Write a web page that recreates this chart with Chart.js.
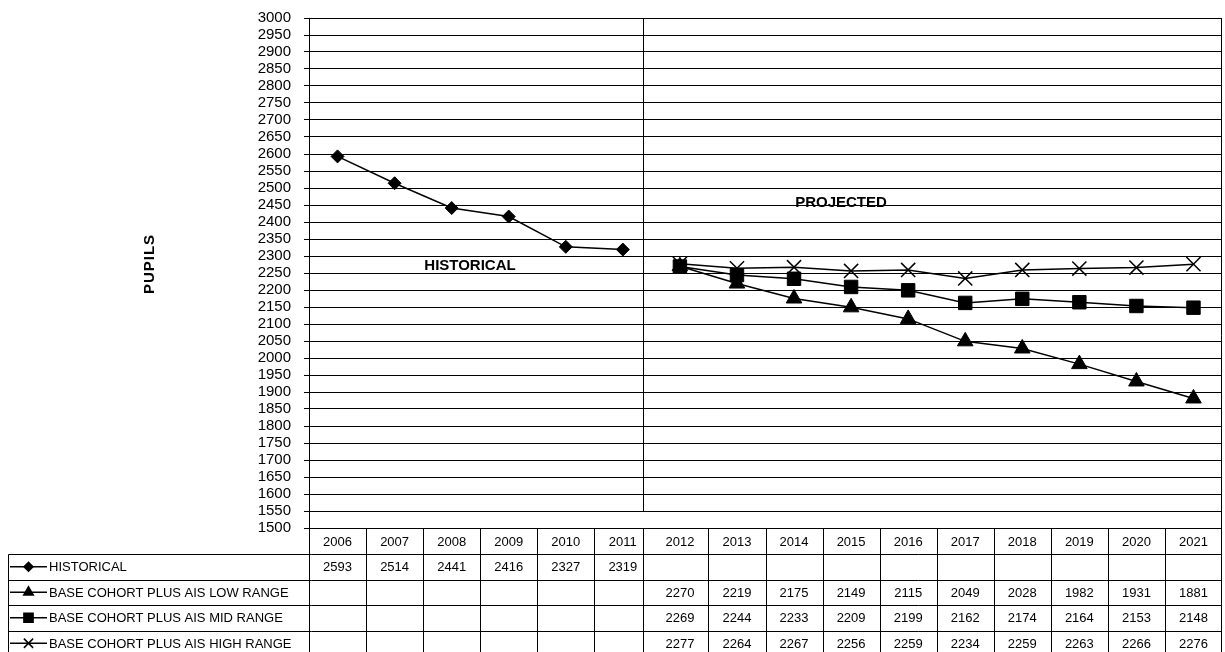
<!DOCTYPE html>
<html>
<head>
<meta charset="utf-8">
<script src="https://cdn.jsdelivr.net/npm/chart.js@4/dist/chart.umd.min.js"></script>
<style>
  body { margin: 0; background: #fff; }
</style>
</head>
<body>
<canvas id="myChart" width="1225" height="652"></canvas>
<script>
const years = ["2006", "2007", "2008", "2009", "2010", "2011", "2012", "2013",
  "2014", "2015", "2016", "2017", "2018", "2019", "2020", "2021"];
const historical = [2593, 2514, 2441, 2416, 2327, 2319, null, null, null, null, null, null, null, null, null, null];
const lowRange = [null, null, null, null, null, null, 2270, 2219, 2175, 2149, 2115, 2049, 2028, 1982, 1931, 1881];
const midRange = [null, null, null, null, null, null, 2269, 2244, 2233, 2209, 2199, 2162, 2174, 2164, 2153, 2148];
const highRange = [null, null, null, null, null, null, 2277, 2264, 2267, 2256, 2259, 2234, 2259, 2263, 2266, 2276];
const seriesNames = ["HISTORICAL", "BASE COHORT PLUS AIS LOW RANGE",
  "BASE COHORT PLUS AIS MID RANGE", "BASE COHORT PLUS AIS HIGH RANGE"];
const yMin = 1500, yMax = 3000, yStep = 50;
// where the historical / projected divider sits, in category widths from the left
const dividerAt = 5.85;

const font = "'Liberation Sans', Arial, sans-serif";
const markers = [
  { style: "rectRot", radius: 6.5, small: 4.5 },
  { style: "triangle", radius: 9, small: 5.5 },
  { style: "rect", radius: 9.5, small: 6.5 },
  { style: "crossRot", radius: 10, small: 6.5 },
];

function makeSet(i, values) {
  return {
    label: seriesNames[i],
    data: values,
    borderColor: "#000",
    backgroundColor: "#000",
    borderWidth: 1.5,
    tension: 0,
    pointStyle: markers[i].style,
    pointRadius: markers[i].radius,
    pointHoverRadius: markers[i].radius,
    pointBorderWidth: i == 3 ? 1.5 : 1,
    pointBackgroundColor: "#000",
    pointBorderColor: "#000",
  };
}

// draws the text labels, the divider and the data table under the plot
const tablePlugin = {
  id: "table",
  afterDraw(chart) {
    const ctx = chart.ctx;
    const area = chart.chartArea;
    const x = chart.scales.x;
    const y = chart.scales.y;
    const colW = (area.right - area.left) / years.length;
    const divX = Math.round(area.left + colW * dividerAt) + 0.5;
    const rightX = Math.round(area.right) - 0.5;
    const top = Math.round(area.top) + 0.5;
    const headTop = Math.round(area.bottom) + 0.5;
    const rowH = 25.5;
    const tableLeft = 8.5;

    ctx.save();
    ctx.strokeStyle = "#000";
    ctx.lineWidth = 1;

    // right border of plot and table
    ctx.beginPath();
    ctx.moveTo(rightX, top);
    ctx.lineTo(rightX, 660);
    ctx.stroke();

    // divider
    ctx.beginPath();
    ctx.moveTo(divX, top);
    ctx.lineTo(divX, Math.round(y.getPixelForValue(1550)) + 0.5);
    ctx.stroke();

    // table horizontal lines
    for (let r = 1; r <= 4; r++) {
      const ly = Math.round(headTop + rowH * r) + 0.5;
      ctx.beginPath();
      ctx.moveTo(tableLeft, ly);
      ctx.lineTo(rightX, ly);
      ctx.stroke();
    }
    // table vertical lines
    ctx.beginPath();
    ctx.moveTo(tableLeft, Math.round(headTop + rowH) + 0.5);
    ctx.lineTo(tableLeft, 660);
    ctx.stroke();
    for (let k = 0; k < years.length; k++) {
      let ex = Math.round(area.left + colW * k) + 0.5;
      if (k == 6) ex = divX;
      ctx.beginPath();
      ctx.moveTo(ex, headTop);
      ctx.lineTo(ex, 660);
      ctx.stroke();
    }

    // years and values
    ctx.fillStyle = "#000";
    ctx.font = "13px " + font;
    ctx.textAlign = "center";
    ctx.textBaseline = "middle";
    const rows = [historical, lowRange, midRange, highRange];
    for (let k = 0; k < years.length; k++) {
      const cx = x.getPixelForValue(k);
      ctx.fillText(years[k], cx, headTop + rowH / 2 + 1);
      for (let r = 0; r < rows.length; r++) {
        if (rows[r][k] != null) {
          ctx.fillText(String(rows[r][k]), cx, headTop + rowH * (r + 1) + rowH / 2 + 1);
        }
      }
    }

    // legend keys
    ctx.textAlign = "left";
    for (let r = 0; r < rows.length; r++) {
      const cy = headTop + rowH * (r + 1) + rowH / 2;
      ctx.lineWidth = 1.5;
      ctx.beginPath();
      ctx.moveTo(10, cy);
      ctx.lineTo(47, cy);
      ctx.stroke();
      Chart.helpers.drawPoint(ctx, {
        pointStyle: markers[r].style,
        radius: markers[r].small,
        rotation: 0,
        borderWidth: 1.5,
      }, 28.5, cy);
      ctx.fillText(seriesNames[r], 49, cy + 1);
    }

    // labels in the plot
    ctx.font = "bold 15px " + font;
    ctx.textAlign = "center";
    ctx.fillText("HISTORICAL", 470, 266);
    ctx.fillText("PROJECTED", 841, 203);

    // axis title
    ctx.translate(150, 264);
    ctx.rotate(-Math.PI / 2);
    ctx.letterSpacing = "1px";
    ctx.fillText("PUPILS", 0, 0);
    ctx.restore();
  },
};

const ctx = document.getElementById("myChart");
const myChart = new Chart(ctx, {
  type: "line",
  data: {
    labels: years,
    datasets: [
      makeSet(0, historical),
      makeSet(1, lowRange),
      makeSet(2, midRange),
      makeSet(3, highRange),
    ],
  },
  options: {
    responsive: false,
    animation: false,
    layout: { autoPadding: false, padding: { left: 0, top: 18, right: 3, bottom: 124 } },
    plugins: {
      legend: { display: false },
      tooltip: { enabled: false },
    },
    scales: {
      x: {
        display: false,
        offset: true,
      },
      y: {
        min: yMin,
        max: yMax,
        afterFit: function (scale) { scale.width = 309; },
        ticks: {
          stepSize: yStep,
          autoSkip: false,
          maxTicksLimit: 40,
          color: "#000",
          padding: 13,
          // small line height so the label padding does not push the plot down
          font: { family: font, size: 15, lineHeight: 0.6 },
          callback: function (value) { return String(value); },
        },
        grid: { color: "#000", lineWidth: 1, tickLength: 5 },
        border: { color: "#000", width: 1 },
      },
    },
  },
  plugins: [tablePlugin],
});
</script>
</body>
</html>
